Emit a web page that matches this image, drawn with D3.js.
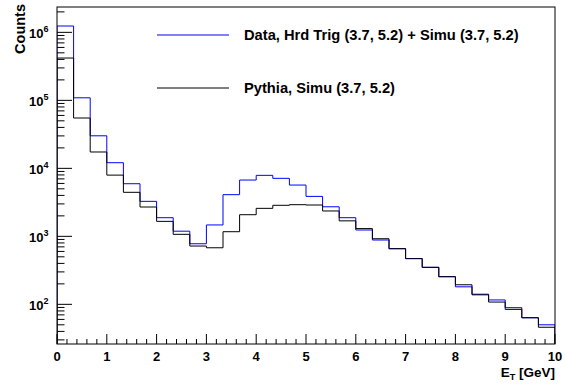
<!DOCTYPE html>
<html>
<head>
<meta charset="utf-8">
<script src="https://cdn.jsdelivr.net/npm/d3@7"></script>
<style>
  body { margin: 0; background: #fff; }
  text { font-family: "Liberation Sans", Arial, Helvetica, sans-serif; font-weight: bold; }
</style>
</head>
<body>
<div id="chart"></div>
<script>
// bins of 1/3 GeV from 0 to 10
const binEdges = d3.range(31).map(i => i * 10 / 30);
const dataSimu = [1.24e6, 1.09e5, 3.01e4, 1.21e4, 5940, 3270, 1880, 1190, 778, 1470,
  4100, 6730, 7890, 7130, 5680, 3870, 2720, 1880, 1240, 883,
  658, 472, 350, 255, 181, 141, 116, 84, 63.5, 50];
const pythiaSimu = [4.19e5, 5.5e4, 1.74e4, 7950, 4440, 2700, 1660, 1070, 720, 679,
  1170, 2080, 2580, 2860, 2920, 2890, 2360, 1690, 1300, 922,
  658, 469, 350, 255, 194, 138, 108, 89, 63.5, 46];
const xTicks = d3.range(0, 11);
const yTicks = [1e2, 1e3, 1e4, 1e5, 1e6];
const legendLabels = ["Data, Hrd Trig (3.7, 5.2) + Simu (3.7, 5.2)", "Pythia, Simu (3.7, 5.2)"];

const width = 567, height = 384;
const margin = { top: 7, right: 12, bottom: 40, left: 57 };
const innerW = width - margin.left - margin.right;
const innerH = height - margin.top - margin.bottom;

const svg = d3.select("#chart").append("svg")
  .attr("width", width)
  .attr("height", height);

const g = svg.append("g")
  .attr("transform", `translate(${margin.left}, ${margin.top})`);

const x = d3.scaleLinear().domain([0, 10]).range([0, innerW]);
const y = d3.scaleLog().domain([26.1, 2.36e6]).range([innerH, 0]);

g.append("clipPath").attr("id", "clip")
  .append("rect").attr("width", innerW).attr("height", innerH);

// step outline for a histogram
function histPath(vals) {
  const pts = [[0, y.domain()[0]]];
  vals.forEach((v, i) => {
    pts.push([binEdges[i], v]);
    pts.push([binEdges[i + 1], v]);
  });
  pts.push([10, y.domain()[0]]);
  return d3.line().x(d => x(d[0])).y(d => y(d[1]))(pts);
}

const series = [
  { vals: dataSimu, color: "#0000ff" },
  { vals: pythiaSimu, color: "#000000" }
];

g.selectAll(".hist")
  .data(series)
  .enter()
  .append("path")
  .attr("class", "hist")
  .attr("clip-path", "url(#clip)")
  .attr("d", d => histPath(d.vals))
  .attr("fill", "none")
  .attr("stroke", d => d.color)
  .attr("stroke-width", 1);

// frame
g.append("rect")
  .attr("width", innerW)
  .attr("height", innerH)
  .attr("fill", "none")
  .attr("stroke", "#000")
  .attr("stroke-width", 1);

// x axis ticks (inside)
const xMinor = d3.range(0, 10.001, 0.2);
g.selectAll(".xtick")
  .data(xMinor)
  .enter()
  .append("line")
  .attr("x1", d => x(d)).attr("x2", d => x(d))
  .attr("y1", innerH)
  .attr("y2", d => Math.abs(d - Math.round(d)) < 1e-6 ? innerH - 10 : innerH - 5)
  .attr("stroke", "#000");

g.selectAll(".xlabel")
  .data(xTicks)
  .enter()
  .append("text")
  .attr("x", d => x(d))
  .attr("y", innerH + 17)
  .attr("text-anchor", "middle")
  .style("font-size", "13px")
  .text(d => d);

// y axis ticks (inside)
const yMinor = [];
[10, 100, 1000, 1e4, 1e5, 1e6].forEach(dec => {
  for (let k = 1; k < 10; k++) {
    const v = dec * k;
    if (v >= y.domain()[0] && v <= y.domain()[1]) yMinor.push({ v, major: k === 1 });
  }
});
g.selectAll(".ytick")
  .data(yMinor)
  .enter()
  .append("line")
  .attr("x1", 0)
  .attr("x2", d => d.major ? 15 : 7.5)
  .attr("y1", d => y(d.v)).attr("y2", d => y(d.v))
  .attr("stroke", "#000");

const yl = g.selectAll(".ylabel")
  .data(yTicks)
  .enter()
  .append("text")
  .attr("x", -28)
  .attr("y", d => y(d) + 6)
  .style("font-size", "13px");
yl.append("tspan").text("10");
yl.append("tspan")
  .attr("dy", -6)
  .style("font-size", "9px")
  .text(d => Math.round(Math.log10(d)));

// axis titles
const xt = svg.append("text")
  .attr("x", 555)
  .attr("y", 377)
  .attr("text-anchor", "end")
  .style("font-size", "13.5px");
xt.append("tspan").text("E");
xt.append("tspan").attr("dy", 3).style("font-size", "9px").text("T");
xt.append("tspan").attr("dy", -3).text(" [GeV]");

svg.append("text")
  .attr("transform", "translate(25, 4) rotate(-90)")
  .attr("text-anchor", "end")
  .style("font-size", "14.5px")
  .text("Counts");

// legend
const legendY = [35, 88];
const leg = svg.selectAll(".leg")
  .data(series)
  .enter()
  .append("g")
  .attr("transform", (d, i) => `translate(157, ${legendY[i]})`);
leg.append("line")
  .attr("x1", 0).attr("x2", 72)
  .attr("stroke", d => d.color);
leg.append("text")
  .attr("x", 87)
  .attr("y", 5)
  .style("font-size", "14.7px")
  .text((d, i) => legendLabels[i]);
</script>
</body>
</html>
